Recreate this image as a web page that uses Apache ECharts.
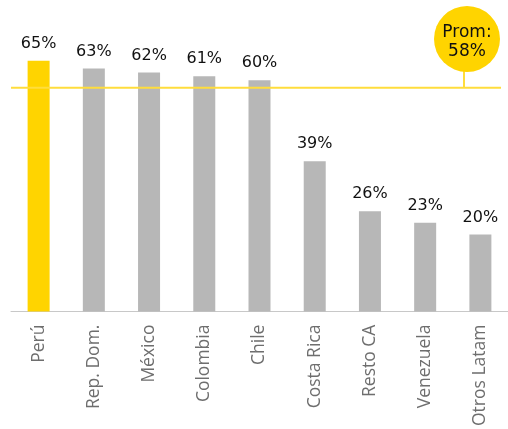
<!DOCTYPE html>
<html>
<head>
<meta charset="utf-8">
<script src="https://cdn.jsdelivr.net/npm/echarts@6/dist/echarts.min.js"></script>
<style>
  html, body { margin: 0; padding: 0; background: #fff; }
  #chart { width: 508px; height: 429px; }
</style>
</head>
<body>
<div id="chart"></div>
<script>
// Share by country, with the regional average
const categories = ['Perú', 'Rep. Dom.', 'México', 'Colombia', 'Chile', 'Costa Rica', 'Resto CA', 'Venezuela', 'Otros Latam'];
const values = [65, 63, 62, 61, 60, 39, 26, 23, 20];
const average = 58;
const highlightIndex = 0;

const YELLOW = '#FFD400';
const LINE_YELLOW = '#FFDD3C';
const GRAY = '#B7B7B7';

const chart = echarts.init(document.getElementById('chart'), null, { renderer: 'canvas' });

const barData = values.map((v, i) => ({
  value: v,
  itemStyle: { color: i === highlightIndex ? YELLOW : GRAY }
}));

chart.setOption({
  animation: false,
  grid: { left: 11, right: -3, top: 3, bottom: 115, containLabel: false },
  xAxis: {
    type: 'category',
    data: categories,
    axisLine: { show: true, lineStyle: { color: '#C8C8C8', width: 1 } },
    axisTick: { show: false },
    axisLabel: {
      rotate: 90,
      margin: 13,
      color: '#6E6E6E',
      fontFamily: 'Open Sans',
      fontSize: 17.5
    }
  },
  yAxis: {
    type: 'value',
    min: 0,
    max: 80,
    show: false,
    splitLine: { show: false }
  },
  series: [
    {
      type: 'bar',
      data: barData,
      barWidth: 22,
      label: {
        show: true,
        position: 'top',
        distance: 9,
        formatter: p => p.value + '%',
        color: '#111',
        fontFamily: 'DejaVu Sans',
        fontSize: 16
      }
    }
  ]
});

// Average line, then a badge above it with a short stem down to the line
function drawAverage() {
  const yLine = chart.convertToPixel({ yAxisIndex: 0 }, average);
  const cx = 467, cy = 39, r = 33;
  chart.setOption({
    graphic: [
      {
        type: 'line',
        shape: { x1: 11, y1: yLine, x2: 501, y2: yLine },
        style: { stroke: LINE_YELLOW, lineWidth: 2 },
        z: 10
      },
      {
        type: 'line',
        shape: { x1: cx - 3, y1: cy + r - 1, x2: cx - 3, y2: yLine },
        style: { stroke: LINE_YELLOW, lineWidth: 2 },
        z: 10
      },
      {
        type: 'circle',
        shape: { cx: cx, cy: cy, r: r },
        style: { fill: YELLOW },
        z: 11
      },
      {
        type: 'text',
        x: cx, y: cy + 3,
        style: {
          text: 'Prom:\n' + average + '%',
          fill: '#111',
          font: '17px "DejaVu Sans"',
          align: 'center',
          verticalAlign: 'middle',
          lineHeight: 19
        },
        z: 12
      }
    ]
  });
}
drawAverage();
</script>
</body>
</html>
